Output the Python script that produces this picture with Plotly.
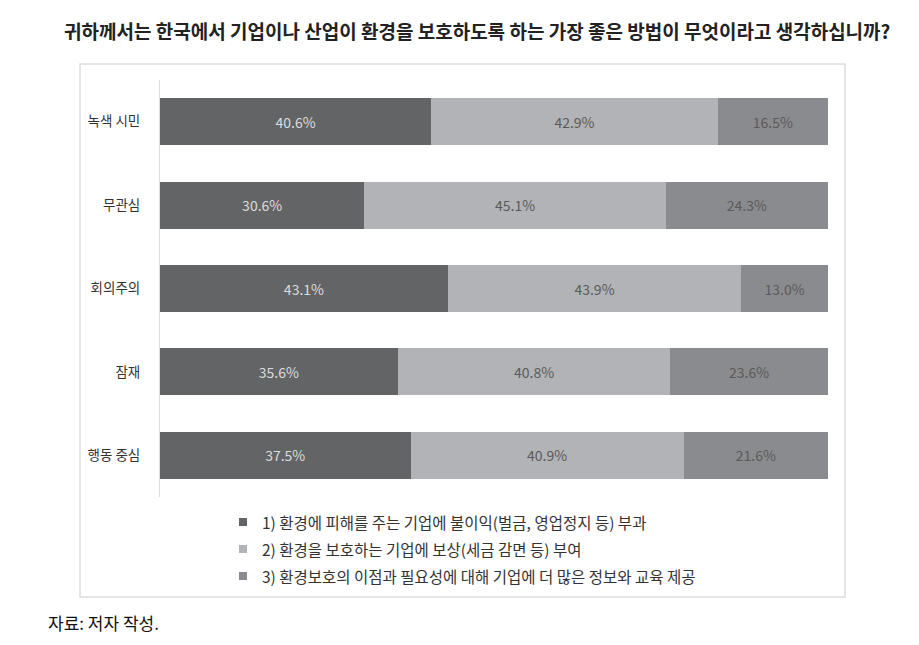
import plotly.graph_objects as go

categories = ["녹색 시민", "무관심", "회의주의", "잠재", "행동 중심"]
series_names = [
    "1) 환경에 피해를 주는 기업에 불이익(벌금, 영업정지 등) 부과",
    "2) 환경을 보호하는 기업에 보상(세금 감면 등) 부여",
    "3) 환경보호의 이점과 필요성에 대해 기업에 더 많은 정보와 교육 제공",
]
s1 = [40.6, 30.6, 43.1, 35.6, 37.5]
s2 = [42.9, 45.1, 43.9, 40.8, 40.9]
s3 = [16.5, 24.3, 13.0, 23.6, 21.6]
title = "귀하께서는 한국에서 기업이나 산업이 환경을 보호하도록 하는 가장 좋은 방법이 무엇이라고 생각하십니까?"
source = "자료: 저자 작성."

colors = ["#636466", "#b2b3b6", "#8a8b8e"]
text_colors = ["#dcdcdc", "#5a5a5a", "#5a5a5a"]

FONT = "Noto Sans CJK KR"
L, R, T, B = 160, 91, 80, 148
W, H = 919, 645
PW, PH = W - L - R, H - T - B


def px_x(px):
    return (px - L) / PW


def px_y(py):
    return (H - B - py) / PH


fig = go.Figure()
for name, vals, c, tc in zip(series_names, [s1, s2, s3], colors, text_colors):
    fig.add_trace(go.Bar(
        y=categories, x=vals, name=name, orientation="h",
        marker=dict(color=c, line=dict(width=0)),
        text=[f"{v:.1f}%" for v in vals], textposition="inside",
        insidetextanchor="middle",
        textfont=dict(color=tc, size=14, family=FONT),
        hoverinfo="skip", showlegend=False,
    ))

shapes = [dict(type="rect", xref="paper", yref="paper",
               x0=px_x(80), x1=px_x(845), y0=px_y(597), y1=px_y(64),
               line=dict(color="#dddddd", width=1.5), layer="below")]
annotations = [
    dict(text=f"<b>{title}</b>", xref="paper", yref="paper", x=px_x(477), y=px_y(30),
         xanchor="center", yanchor="middle", showarrow=False,
         font=dict(size=19, color="#222222", family=FONT)),
    dict(text=source, xref="paper", yref="paper", x=px_x(46), y=px_y(622),
         xanchor="left", yanchor="middle", showarrow=False,
         font=dict(size=17, color="#111111", family=FONT)),
]
# manual legend (small square swatches)
for i, (name, c) in enumerate(zip(series_names, colors)):
    cy = 522 + 27 * i
    shapes.append(dict(type="rect", xref="paper", yref="paper",
                       x0=px_x(239), x1=px_x(247), y0=px_y(cy + 4), y1=px_y(cy - 4),
                       fillcolor=c, line=dict(width=0)))
    annotations.append(dict(text=name, xref="paper", yref="paper", x=px_x(260), y=px_y(cy),
                            xanchor="left", yanchor="middle", showarrow=False,
                            font=dict(size=15.5, color="#333333", family=FONT)))

fig.update_layout(
    width=W, height=H,
    margin=dict(l=L, r=R, t=T, b=B),
    barmode="stack", bargap=0.435,
    plot_bgcolor="white", paper_bgcolor="white",
    font=dict(family=FONT, color="#333333"),
    showlegend=False,
    xaxis=dict(range=[0, 100], visible=False, fixedrange=True),
    yaxis=dict(autorange="reversed", showline=True, linecolor="#dddddd", linewidth=1,
               ticks="", ticklen=0, tickfont=dict(size=13.5, color="#333333", family=FONT),
               ticklabelstandoff=16, showgrid=False),
    shapes=shapes,
    annotations=annotations,
)

fig.write_html("out.html")
